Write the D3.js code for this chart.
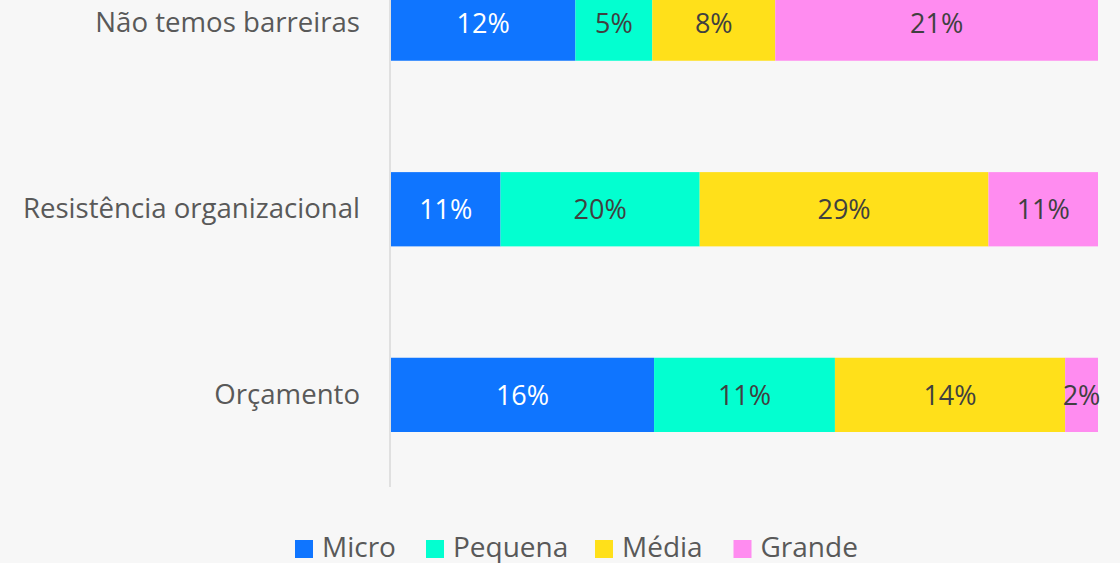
<!DOCTYPE html>
<html>
<head>
<meta charset="utf-8">
<script src="https://cdn.jsdelivr.net/npm/d3@7"></script>
<style>
  html, body { margin: 0; padding: 0; background: #f7f7f7; }
  svg { display: block; font-family: "Open Sans", "Noto Sans", sans-serif; }
</style>
</head>
<body>
<svg id="chart" width="1120" height="563"></svg>
<script>
// Data (share of respondents per company size)
const categories = ["Não temos barreiras", "Resistência organizacional", "Orçamento"];
const seriesNames = ["Micro", "Pequena", "Média", "Grande"];
const micro   = [12, 11, 16];
const pequena = [5, 20, 11];
const media   = [8, 29, 14];
const grande  = [21, 11, 2];
const colors = ["#0f75ff", "#03ffd0", "#ffe01a", "#ff8cf0"];
const labelColors = ["#ffffff", "#404040", "#404040", "#404040"];

const width = 1120, height = 563;
const margin = { top: -13.5, left: 391, right: 22, bottom: 131 };

const rows = categories.map((c, i) => ({
  cat: c, Micro: micro[i], Pequena: pequena[i], "Média": media[i], Grande: grande[i]
}));

// 100% stacked
const stacked = d3.stack()
  .keys(seriesNames)
  .offset(d3.stackOffsetExpand)(rows);

const svg = d3.select("#chart");

const x = d3.scaleLinear()
  .domain([0, 1])
  .range([margin.left, width - margin.right]);

const y = d3.scaleBand()
  .domain(categories)
  .range([margin.top, height - margin.bottom])
  .paddingInner(0.6)
  .paddingOuter(0);

const color = d3.scaleOrdinal().domain(seriesNames).range(colors);

// bars
const layer = svg.append("g")
  .selectAll("g")
  .data(stacked)
  .enter()
  .append("g")
  .attr("fill", d => color(d.key));

layer.selectAll("rect")
  .data(d => d)
  .enter()
  .append("rect")
  .attr("x", d => x(d[0]))
  .attr("y", d => y(d.data.cat))
  .attr("width", d => x(d[1]) - x(d[0]))
  .attr("height", y.bandwidth());

// value labels
svg.append("g")
  .selectAll("g")
  .data(stacked)
  .enter()
  .append("g")
  .attr("fill", (d, i) => labelColors[i])
  .selectAll("text")
  .data(d => d.map(v => ({ v, key: d.key })))
  .enter()
  .append("text")
  .attr("x", d => (x(d.v[0]) + x(d.v[1])) / 2)
  .attr("y", d => y(d.v.data.cat) + y.bandwidth() / 2)
  .attr("dy", "0.36em")
  .attr("text-anchor", "middle")
  .attr("font-size", 27)
  .text(d => d.v.data[d.key] + "%");

// category axis
const yAxis = svg.append("g")
  .attr("transform", `translate(${margin.left - 1},0)`)
  .call(d3.axisLeft(y).tickSize(0).tickPadding(30));

yAxis.select(".domain").remove();
yAxis.selectAll("text")
  .attr("font-size", 27.6)
  .attr("font-family", "'Open Sans', 'Noto Sans', sans-serif")
  .attr("fill", "#595959");

svg.append("line")
  .attr("x1", margin.left - 1).attr("x2", margin.left - 1)
  .attr("y1", 0).attr("y2", 487)
  .attr("stroke", "#d9d9d9")
  .attr("stroke-width", 1.5);

// legend
const legendX = [295, 426, 595, 733.5];
const legend = svg.append("g")
  .selectAll("g")
  .data(seriesNames)
  .enter()
  .append("g")
  .attr("transform", (d, i) => `translate(${legendX[i]},540)`);

legend.append("rect")
  .attr("width", 18).attr("height", 18)
  .attr("fill", d => color(d));

legend.append("text")
  .attr("x", 27).attr("y", 17)
  .attr("font-size", 28)
  .attr("fill", "#595959")
  .text(d => d);
</script>
</body>
</html>
